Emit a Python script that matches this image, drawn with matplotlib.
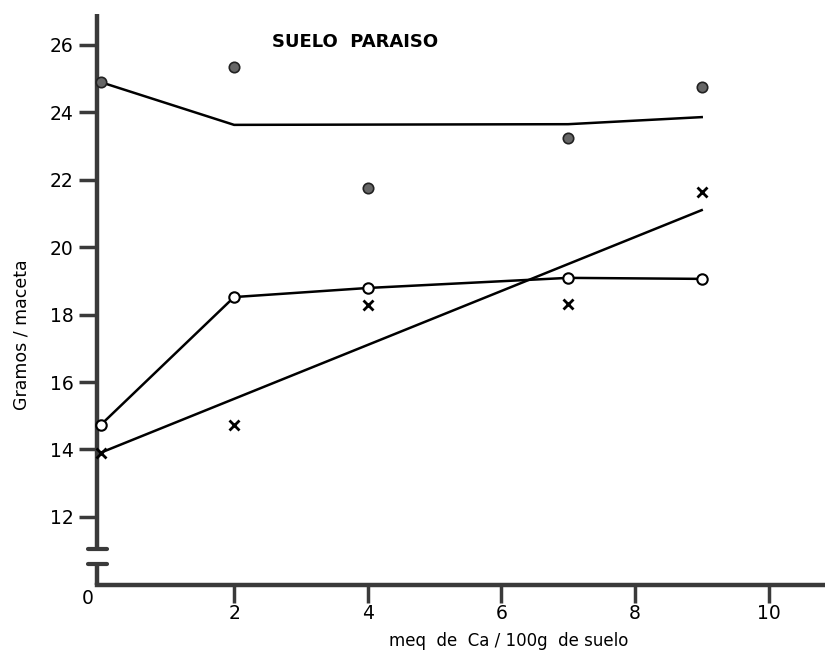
import matplotlib
matplotlib.use("Agg")
import matplotlib.pyplot as plt

# Data
x_pts = [0, 2, 4, 7, 9]
filled_y = [24.9, 25.35, 21.76, 23.24, 24.75]
open_y = [14.72, 18.52, 18.79, 19.09, 19.06]
cross_y = [13.9, 14.72, 18.28, 18.31, 21.64]
fit_filled_x = [0, 2, 7, 9]
fit_filled_y = [24.9, 23.63, 23.65, 23.86]
fit_cross_x = [0, 9]
fit_cross_y = [13.9, 21.1]
yticks = [12, 14, 16, 18, 20, 22, 24, 26]
xticks = [2, 4, 6, 8, 10]

W, H = 825, 659
fig = plt.figure(figsize=(W / 100, H / 100), dpi=100)
plt.rcParams['font.family'] = ['DejaVu Sans']

# pixel mapping
def px2x(px):
    return (px - 100.5) / 66.8

def py2y(py):
    return 26 - (py - 45) / 33.7

left_px, right_px, bottom_px, top_px = 97, 825, 585, 14
ax = fig.add_axes([left_px / W, 1 - bottom_px / H, (right_px - left_px) / W, (bottom_px - top_px) / H])
ax.set_xlim(px2x(left_px), px2x(right_px))
ax.set_ylim(py2y(bottom_px), py2y(top_px))

axcol = '#3a3a3a'
for s in ['top', 'right']:
    ax.spines[s].set_visible(False)
ax.spines['left'].set_linewidth(3.2)
ax.spines['bottom'].set_linewidth(3.2)
ax.spines['left'].set_color(axcol)
ax.spines['bottom'].set_color(axcol)
ax.spines['left'].set_bounds(py2y(549), py2y(top_px))
ax.spines['left'].set_capstyle('butt')

# lower segment of broken y-axis and break caps
x0 = px2x(left_px)
ax.plot([x0, x0], [py2y(bottom_px), py2y(564)], color=axcol, lw=3.2, clip_on=False, solid_capstyle='butt')
for yb in (549, 564):
    ax.plot([px2x(88), px2x(107)], [py2y(yb), py2y(yb)], color=axcol, lw=3.0, clip_on=False, solid_capstyle='round')

ax.set_yticks(yticks)
ax.set_xticks(xticks)
ax.tick_params(axis='y', direction='out', length=13, width=2.5, color=axcol, labelsize=13.5, pad=4)
ax.tick_params(axis='x', direction='out', length=13, width=2.5, color=axcol, labelsize=13.5, pad=1)

# origin label
fig.text(88 / W, 1 - 598 / H, '0', ha='center', va='center', fontsize=13.5)

# fitted lines
ax.plot(fit_filled_x, fit_filled_y, color='black', lw=1.8, zorder=3)
ax.plot(x_pts, open_y, color='black', lw=1.8, zorder=3)
ax.plot(fit_cross_x, fit_cross_y, color='black', lw=1.8, zorder=3)

# markers
ax.plot(x_pts, filled_y, 'o', ms=7.5, mfc='#666666', mec='#222222', mew=1.2, ls='none', zorder=4, clip_on=False)
ax.plot(x_pts, open_y, 'o', ms=7.5, mfc='white', mec='black', mew=1.5, ls='none', zorder=4, clip_on=False)
ax.plot(x_pts, cross_y, 'x', ms=6.5, mec='black', mew=2.0, ls='none', zorder=4, clip_on=False)

fig.text(509 / W, 1 - 641 / H, 'meq  de  Ca / 100g  de suelo', ha='center', va='center', fontsize=12)
fig.text(22 / W, 1 - 335 / H, 'Gramos / maceta', rotation=90, ha='center', va='center', fontsize=12.5)
fig.text(355 / W, 1 - 42 / H, 'SUELO  PARAISO', ha='center', va='center', fontsize=13, fontweight='bold')

fig.savefig('out.png', dpi=100)
